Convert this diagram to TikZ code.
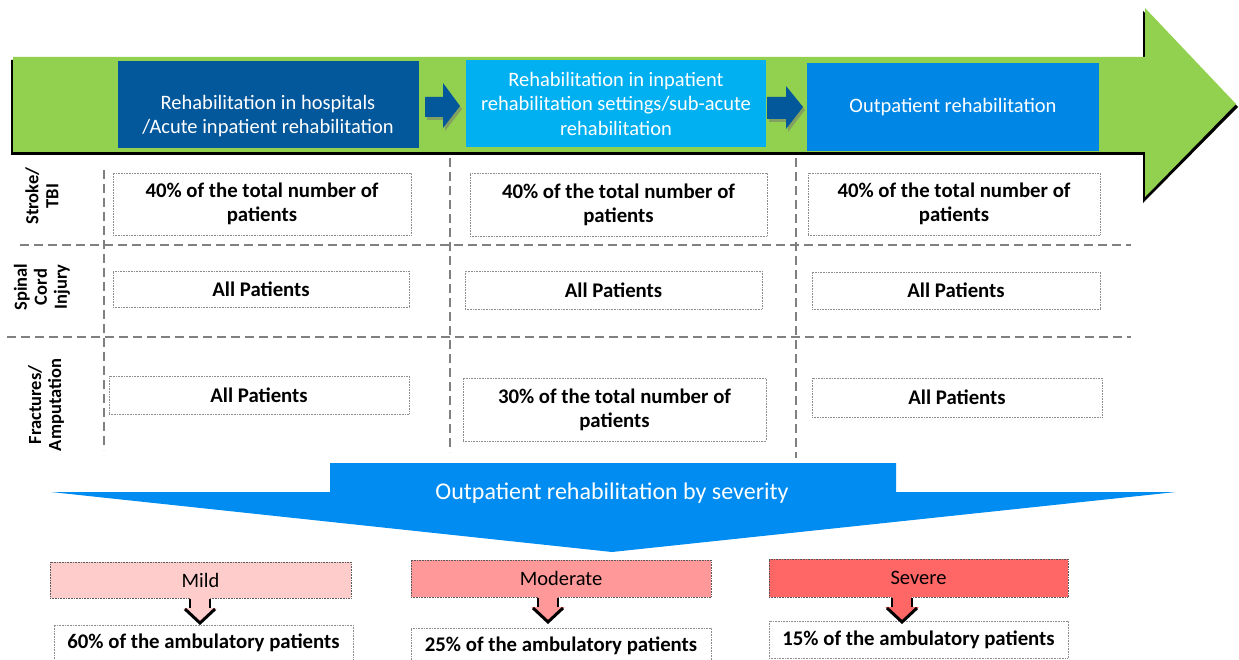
\documentclass[tikz,border=0pt]{standalone}
\usepackage{fontspec}
\setmainfont{Carlito}
\usetikzlibrary{calc}
\begin{document}
\begin{tikzpicture}[x=1pt,y=-1pt,
  every node/.style={inner sep=0pt, outer sep=0pt},
  stage/.style={minimum width=#1, text=white, align=center,
    font=\fontsize{20.5}{24.5}\selectfont},
  cell/.style={draw={rgb,255:red,140;green,140;blue,140}, densely dotted, line width=0.6pt,
    fill=white, minimum width=#1, align=center,
    font=\bfseries\fontsize{20.8}{24}\selectfont},
  rowlabel/.style={rotate=90, align=center, font=\bfseries\fontsize{18.5}{20}\selectfont},
  grid/.style={draw={rgb,255:red,128;green,128;blue,128}, line width=2.2pt,
    dash pattern=on 9pt off 5pt},
  sev/.style={draw={rgb,255:red,90;green,90;blue,90}, densely dotted, line width=0.6pt,
    minimum width=#1, font=\fontsize{20.5}{24}\selectfont},
]
\definecolor{arrowgreen}{RGB}{146,208,80}
\definecolor{stageA}{RGB}{3,87,155}
\definecolor{stageB}{RGB}{0,176,240}
\definecolor{stageC}{RGB}{0,135,230}
\definecolor{funnel}{RGB}{0,140,240}
\definecolor{mild}{RGB}{255,204,204}
\definecolor{moderate}{RGB}{255,153,153}
\definecolor{severe}{RGB}{255,102,102}

\useasboundingbox (0,0) rectangle (1239,660);

% big green process arrow with dark drop shadow
\fill[black] (11,60) -- (1143,60) -- (1143,11) -- (1238,107) -- (1143,203)
  -- (1143,155) -- (11,155) -- cycle;
\fill[arrowgreen] (13,57) -- (1145,57) -- (1145,8) -- (1236,104)
  -- (1145,197) -- (1145,152) -- (13,152) -- cycle;

% stage boxes
\node[stage=301pt, fill=stageA, minimum height=87pt] (s1) at (268.5,104.5) {};
\node[stage=301pt] (s1t) at (268,116) {Rehabilitation in hospitals\\/Acute inpatient rehabilitation};
\node[stage=300pt, fill=stageB, minimum height=87pt] (s2) at (616,103.5)
  {Rehabilitation in inpatient\\rehabilitation settings/sub-acute\\rehabilitation};
\node[stage=292pt, fill=stageC, minimum height=88pt] (s3) at (953,107) {Outpatient rehabilitation};

% small arrows between the stages
\fill[black!55, opacity=0.5] (427,100) -- (445,100) -- (445,86) -- (462,109) -- (445,131) -- (445,120) -- (427,120) -- cycle;
\fill[stageA] (425,97) -- (443,97) -- (443,83) -- (460,106) -- (443,128) -- (443,117) -- (425,117) -- cycle;
\fill[black!55, opacity=0.5] (769,100) -- (788,100) -- (788,89) -- (805,110) -- (788,132) -- (788,122) -- (769,122) -- cycle;
\fill[stageA] (767,97) -- (786,97) -- (786,86) -- (803,107) -- (786,129) -- (786,119) -- (767,119) -- cycle;

% table grid
\draw[grid] (104,170) -- (104,450);
\draw[grid] (450,158) -- (450,452);
\draw[grid] (796,158) -- (796,458);
\draw[grid] (20,245) -- (1131,245);
\draw[grid] (7,337) -- (1131,337);

% row labels
\node[rowlabel] (l1) at (42,196) {Stroke/\\TBI};
\node[rowlabel] (l2) at (42,287) {Spinal\\Cord\\Injury};
\node[rowlabel] (l3) at (46,405) {Fractures/\\Amputation};

% cells
\node[cell=298pt, minimum height=62pt] (c11) at (262,204) {40\% of the total number of\\patients};
\node[cell=297pt, minimum height=63pt] (c12) at (618.5,204.5) {40\% of the total number of\\patients};
\node[cell=292pt, minimum height=62pt] (c13) at (954,204) {40\% of the total number of\\patients};
\node[cell=296pt, minimum height=36pt] (c21) at (261,289) {All Patients};
\node[cell=297pt, minimum height=38pt] (c22) at (613.5,290) {All Patients};
\node[cell=288pt, minimum height=37pt] (c23) at (956,290.5) {All Patients};
\node[cell=300pt, minimum height=38pt] (c31) at (259,395) {All Patients};
\node[cell=303pt, minimum height=63pt] (c32) at (614.5,409.5) {30\% of the total number of\\patients};
\node[cell=290pt, minimum height=39pt] (c33) at (957,397.5) {All Patients};

% funnel arrow
\fill[funnel] (51,492) -- (330,492) -- (330,463) -- (896,463) -- (896,492)
  -- (1176,492) -- (612,552) -- cycle;
\node[text=white, font=\fontsize{24}{27}\selectfont] (ft) at (612,493)
  {Outpatient rehabilitation by severity};

% severity boxes
\node[sev=301pt, fill=mild, minimum height=36pt] (mild) at (200.5,580) {Mild};
\node[sev=300pt, fill=moderate, minimum height=37pt] (mod) at (561,578.5) {Moderate};
\node[sev=299pt, fill=severe, minimum height=38pt] (sev) at (918.5,578) {Severe};

\node[cell=299pt, minimum height=36pt] (rmild) at (203.5,643) {60\% of the ambulatory patients};
\node[cell=300pt, minimum height=36pt] (rmod) at (561,646) {25\% of the ambulatory patients};
\node[cell=299pt, minimum height=37pt] (rsev) at (918.5,639.5) {15\% of the ambulatory patients};

% down arrows from severity to share
\foreach \cx/\top/\col in {200/mild/mild, 548/mod/moderate, 902/sev/severe}{
  \path (\cx,0) coordinate (ax);
  \path (ax |- \top.south) coordinate (atop);
  \fill[\col] ($(atop)+(-10,0)$) -- ++(0,10) -- ++(-7,0) -- ($(atop)+(0,25)$)
    -- ($(atop)+(17,10)$) -- ++(-7,0) -- ++(0,-10) -- cycle;
  \draw[line width=2.2pt, line join=miter] ($(atop)+(-10,1)$) -- ++(0,9);
  \draw[line width=2.2pt, line join=miter] ($(atop)+(10,1)$) -- ++(0,9);
  \draw[line width=3pt, line join=miter] ($(atop)+(-15,11)$) -- ($(atop)+(0,25)$) -- ($(atop)+(15,11)$);
}
\end{tikzpicture}
\end{document}
